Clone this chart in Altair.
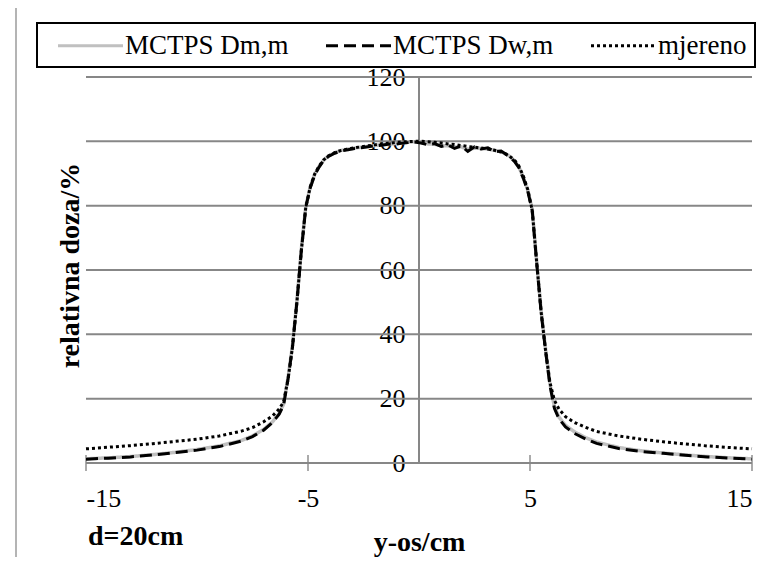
import altair as alt
import pandas as pd

# ---- data ----
y_pos = [-15, -14, -13, -12, -11, -10, -9, -8, -7.5, -7, -6.6, -6.3, -6.1, -5.9, -5.7, -5.5,
         -5.3, -5.1, -4.9, -4.7, -4.5, -4.3, -4.1, -3.8, -3.5, -3.2, -2.9, -2.6, -2.3, -2.0,
         -1.7, -1.4, -1.1, -0.8, -0.5, -0.2, 0.1, 0.4, 0.7, 1.0, 1.3, 1.6, 1.9, 2.2, 2.5, 2.8,
         3.1, 3.4, 3.7, 4.0, 4.3, 4.5, 4.7, 4.9, 5.1, 5.3, 5.5, 5.7, 5.9, 6.1, 6.3, 6.6, 7,
         7.5, 8, 9, 10, 11, 12, 13, 14, 15]

dose_dw = [1.2, 1.5, 1.9, 2.5, 3.2, 4.0, 5.1, 6.8, 8.2, 10.2, 12.6, 15.2, 18.0, 26, 36, 50,
           66, 79.5, 85.5, 89.5, 92.0, 94.0, 95.2, 96.3, 97.0, 97.4, 97.8, 98.0, 98.3, 98.6,
           98.8, 99.1, 99.0, 99.4, 99.6, 99.8, 99.5, 98.9, 99.3, 98.4, 98.9, 97.8, 98.6, 96.9,
           98.3, 97.6, 98.0, 96.8, 97.0, 95.6, 93.8, 91.8, 88.5, 84.5, 78.5, 62.3, 47, 35, 24,
           17, 13.8, 11.2, 9.2, 7.5, 6.1, 4.5, 3.6, 3.0, 2.4, 1.9, 1.5, 1.2]

dose_dm = [1.3, 1.6, 2.0, 2.6, 3.3, 4.2, 5.3, 7.0, 8.4, 10.4, 12.8, 15.4, 18.3, 26.5, 36.5, 50.5,
           66.5, 79.8, 85.8, 89.7, 92.2, 94.1, 95.4, 96.4, 97.2, 97.6, 97.9, 98.2, 98.4, 98.7,
           99.0, 99.0, 99.3, 99.5, 99.7, 99.9, 99.6, 99.2, 99.1, 98.7, 98.6, 98.2, 98.3, 97.5,
           97.9, 97.8, 97.6, 97.2, 96.8, 95.8, 94.0, 92.0, 88.8, 84.8, 78.8, 62.8, 47.5, 35.5, 24.5,
           17.5, 14.3, 11.7, 9.7, 7.9, 6.5, 4.8, 3.8, 3.1, 2.5, 2.0, 1.6, 1.3]

dose_meas = [4.4, 4.9, 5.4, 6.0, 6.7, 7.4, 8.4, 9.9, 11.0, 12.8, 14.6, 16.8, 19.0, 26, 36, 50,
             66, 79.5, 85.8, 89.8, 92.3, 94.2, 95.4, 96.5, 97.2, 97.6, 98.0, 98.3, 98.6, 98.9,
             99.2, 99.4, 99.6, 99.8, 99.9, 100.0, 100.0, 99.9, 99.7, 99.5, 99.2, 99.0, 98.7, 98.4,
             98.2, 97.9, 97.6, 97.2, 96.7, 95.8, 94.2, 92.3, 89.2, 85.0, 78.5, 62.5, 47, 35, 25,
             19.5, 16.8, 14.4, 12.6, 11.1, 9.8, 8.4, 7.4, 6.6, 5.9, 5.3, 4.8, 4.4]

series_names = ["MCTPS Dm,m", "MCTPS Dw,m", "mjereno"]
series_colors = ["#c0c0c0", "#000000", "#000000"]
series_dashes = [[1, 0], [12, 6], [3, 3]]

grid_values = [20, 40, 60, 80, 100, 120]
x_ticks = [-15, -5, 5, 15]
y_ticks = [0, 20, 40, 60, 80, 100, 120]
note_text = ["d=20cm"]

FONT = "Liberation Serif"
W, H = 666, 386

rows = []
for name, vals in zip(series_names, [dose_dm, dose_dw, dose_meas]):
    for xv, yv in zip(y_pos, vals):
        rows.append({"x": xv, "y": yv, "s": name})
df = pd.DataFrame(rows)

xscale = alt.Scale(domain=[-15, 15], nice=False, zero=False)
yscale = alt.Scale(domain=[0, 120], nice=False)

color_scale = alt.Scale(domain=series_names, range=series_colors)
dash_scale = alt.Scale(domain=series_names, range=series_dashes)

legend = alt.Legend(
    orient="none", legendX=-49, legendY=-54, direction="horizontal", title=None,
    strokeColor="black", padding=8, symbolType="M-2.5,0H2.5", symbolSize=676,
    symbolOffset=31, symbolStrokeWidth=3, labelFont=FONT, labelFontSize=27,
    labelColor="black", labelOffset=20, columnPadding=24, labelLimit=400,
)

base_x = alt.X("x:Q", scale=xscale, axis=alt.Axis(
    orient="bottom", values=x_ticks, domain=False, ticks=False, tickSize=0, grid=False,
    labelExpr="'' + datum.value",
    labelPadding=22, labelFont=FONT, labelFontSize=26, labelColor="black",
    title="y-os/cm", titleFont=FONT, titleFontSize=28, titleFontWeight="bold",
    titleColor="black", titleY=79, titleX=W / 2, titleBaseline="middle"))
base_y = alt.Y("y:Q", scale=yscale, axis=alt.Axis(
    orient="left", offset=-W / 2, values=y_ticks, domain=False, ticks=False, tickSize=0,
    grid=False, labelPadding=14, labelFont=FONT, labelFontSize=26, labelColor="black",
    title="relativna doza/%", titleFont=FONT, titleFontSize=28, titleFontWeight="bold",
    titleColor="black", titleX=-349, titleY=188, titleAlign="center",
    titleBaseline="middle"))

frame = alt.Chart(pd.DataFrame({"k": [0]})).mark_rect(
    fillOpacity=0, stroke="#b4b4b4", strokeWidth=2).encode(
    x=alt.value(-70), x2=alt.value(705), y=alt.value(-70), y2=alt.value(489))

grid = alt.Chart(pd.DataFrame({"v": grid_values})).mark_rule(
    color="#878787", strokeWidth=2).encode(
    y=alt.Y("v:Q", scale=yscale), x=alt.datum(-15), x2=alt.datum(15))

xaxis_line = alt.Chart(pd.DataFrame({"k": [0]})).mark_rule(
    color="#878787", strokeWidth=2).encode(
    y=alt.datum(0), x=alt.datum(-15), x2=alt.datum(15))

yaxis_line = alt.Chart(pd.DataFrame({"k": [0]})).mark_rule(
    color="#878787", strokeWidth=2).encode(
    x=alt.datum(0), y=alt.datum(0), y2=alt.datum(120))

xticks = alt.Chart(pd.DataFrame({"t": x_ticks})).mark_tick(
    orient="vertical", size=16, thickness=2, color="#878787").encode(
    x=alt.X("t:Q", scale=xscale), y=alt.datum(0))

def series_layer(name, width):
    return alt.Chart(df).transform_filter(alt.datum.s == name).mark_line(
        strokeWidth=width, strokeCap="butt").encode(
        x=base_x, y=base_y,
        color=alt.Color("s:N", scale=color_scale, legend=legend),
        strokeDash=alt.StrokeDash("s:N", scale=dash_scale, legend=legend),
    )

lines = [series_layer(series_names[0], 3.5), series_layer(series_names[1], 3),
         series_layer(series_names[2], 3)]

note = alt.Chart(pd.DataFrame({"t": note_text})).mark_text(
    align="left", baseline="middle", font=FONT, fontSize=28, fontWeight="bold",
    color="black").encode(text="t:N", x=alt.value(2), y=alt.value(460))

chart = alt.layer(frame, grid, xaxis_line, yaxis_line, xticks, *lines, note).properties(
    width=W, height=H,
    autosize=alt.AutoSizeParams(type="none"),
    padding={"left": 78, "top": 69, "right": 16, "bottom": 94},
).configure_view(stroke=None).configure_legend(strokeWidth=2)

chart.save("out.html", embed_options={"renderer": "svg", "actions": False})
